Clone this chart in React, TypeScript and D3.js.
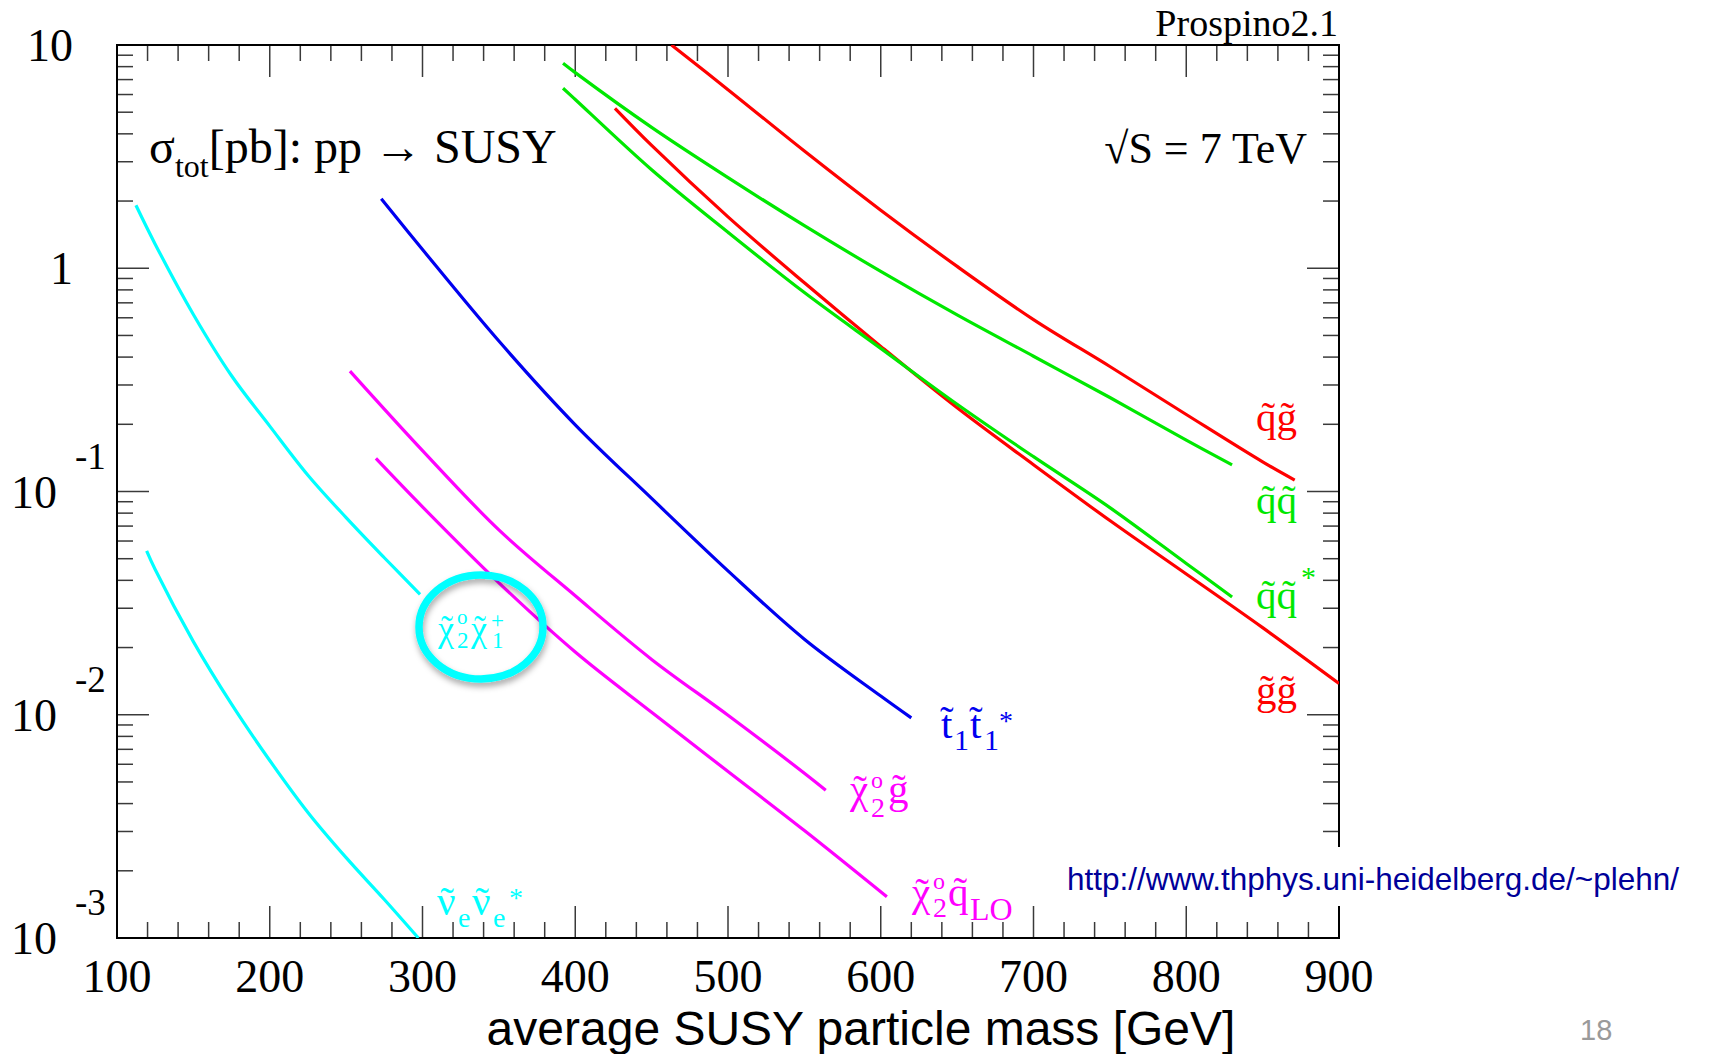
import React from "react";
import * as d3 from "d3";

const W = 1710;
const H = 1054;
const PLOT = { left: 117, right: 1339, top: 45, bottom: 938 };

// axis values
const xMajorTicks = [100, 200, 300, 400, 500, 600, 700, 800, 900];
const xTickLabels = ["100", "200", "300", "400", "500", "600", "700", "800", "900"];
const yDecades = [10, 1, 0.1, 0.01, 0.001];
const yLabelBase = ["10", "1", "10", "10", "10"];
const yLabelExp = ["", "", "-1", "-2", "-3"];

// series data: average mass [GeV], sigma_tot [pb]
const qgMass = [463, 500, 550, 600, 650, 700, 750, 800, 850, 871];
const qgXsec = [10, 6.31, 3.35, 1.82, 1.019, 0.589, 0.363, 0.2213, 0.1358, 0.1125];

const ggMass = [426, 450, 500, 550, 600, 650, 700, 750, 800, 850, 900];
const ggXsec = [5.2, 3.548, 1.698, 0.861, 0.4467, 0.237, 0.1318, 0.0741, 0.0427, 0.02455, 0.0138];

const qqMass = [392, 400, 450, 500, 550, 600, 650, 700, 750, 800, 830];
const qqXsec = [8.28, 7.52, 4.276, 2.547, 1.552, 0.968, 0.618, 0.4036, 0.2636, 0.1698, 0.1315];

const qqbarMass = [392, 400, 450, 500, 550, 600, 650, 700, 750, 800, 830];
const qqbarXsec = [6.4, 5.7, 2.761, 1.449, 0.778, 0.4375, 0.246, 0.1432, 0.0847, 0.0476, 0.0337];

const stopMass = [273, 300, 350, 400, 450, 500, 550, 600, 620];
const stopXsec = [2.046, 1.213, 0.472, 0.199, 0.0931, 0.0441, 0.0218, 0.01213, 0.00968];

const n2gMass = [252.5, 300, 350, 400, 450, 500, 550, 564];
const n2gXsec = [0.346, 0.1524, 0.0673, 0.0341, 0.0177, 0.00995, 0.00547, 0.00459];

const n2qMass = [269.5, 300, 350, 400, 450, 500, 550, 604];
const n2qXsec = [0.1406, 0.0853, 0.039, 0.0191, 0.01026, 0.00557, 0.00303, 0.00153];

const n2c1Mass = [112.4, 125, 150, 175, 200, 225, 250, 275, 298.4];
const n2c1Xsec = [1.914, 1.282, 0.621, 0.33, 0.1963, 0.1183, 0.0764, 0.0505, 0.0346];

const snuMass = [119.4, 125, 150, 175, 200, 225, 250, 275, 297.3];
const snuXsec = [0.0542, 0.0447, 0.02126, 0.01115, 0.00624, 0.00365, 0.00229, 0.001488, 0.001];

const RED = "#ff0000";
const GREEN = "#00e800";
const BLUE = "#0000f0";
const MAGENTA = "#ff00ff";
const CYAN = "#00ffff";

const series = [
  { id: "qg", mass: qgMass, xsec: qgXsec, color: RED },
  { id: "gg", mass: ggMass, xsec: ggXsec, color: RED },
  { id: "qq", mass: qqMass, xsec: qqXsec, color: GREEN },
  { id: "qqbar", mass: qqbarMass, xsec: qqbarXsec, color: GREEN },
  { id: "stop", mass: stopMass, xsec: stopXsec, color: BLUE },
  { id: "n2g", mass: n2gMass, xsec: n2gXsec, color: MAGENTA },
  { id: "n2q", mass: n2qMass, xsec: n2qXsec, color: MAGENTA },
  { id: "n2c1", mass: n2c1Mass, xsec: n2c1Xsec, color: CYAN },
  { id: "snu", mass: snuMass, xsec: snuXsec, color: CYAN },
];

const SERIF = "'Liberation Serif', 'Times New Roman', Times, serif";
const SANS = "'Liberation Sans', Arial, Helvetica, sans-serif";

type Part = { t: string; dx: number; dy?: number; size?: number; tilde?: number };

function Label({ x, y, color, size, parts }: { x: number; y: number; color: string; size: number; parts: Part[] }) {
  return (
    <g fill={color} fontFamily={SERIF}>
      {parts.map((p, i) => (
        <g key={i}>
          <text x={x + p.dx} y={y + (p.dy || 0)} fontSize={p.size || size}>
            {p.t}
          </text>
          {p.tilde !== undefined ? (
            <text
              x={x + p.dx + p.tilde}
              y={y + (p.dy || 0)}
              fontSize={p.size || size}
              textAnchor="middle"
            >
              {"\u02DC"}
            </text>
          ) : null}
        </g>
      ))}
    </g>
  );
}

export default function App() {
  const x = d3.scaleLinear().domain([100, 900]).range([PLOT.left, PLOT.right]);
  const y = d3.scaleLog().domain([0.001, 10]).range([PLOT.bottom, PLOT.top]);

  const line = d3
    .line<[number, number]>()
    .x((d) => x(d[0]))
    .y((d) => y(d[1]))
    .curve(d3.curveCatmullRom.alpha(0.5));

  const xMinor = d3.range(120, 900, 20).filter((v) => v % 100 !== 0);
  const yMinor: number[] = [];
  [0.001, 0.01, 0.1, 1].forEach((d) => {
    for (let k = 2; k <= 9; k++) yMinor.push(d * k);
  });

  const MAJ = 32;
  const MIN = 16;
  const tickColor = "#3a3a3a";

  return (
    <svg
      width={W}
      height={H}
      style={{ position: "absolute", left: 0, top: 0, background: "#fff" }}
      xmlns="http://www.w3.org/2000/svg"
    >
      <defs>
        <clipPath id="plotClip">
          <rect x={PLOT.left} y={PLOT.top} width={PLOT.right - PLOT.left} height={PLOT.bottom - PLOT.top} />
        </clipPath>
        <filter id="shadow" x="-30%" y="-30%" width="160%" height="170%">
          <feDropShadow dx="1" dy="4" stdDeviation="3" floodColor="#000" floodOpacity="0.35" />
        </filter>
      </defs>
      <rect x={0} y={0} width={W} height={H} fill="#fff" />

      {/* ticks */}
      <g stroke={tickColor} strokeWidth={1.5}>
        {xMajorTicks.map((v) => (
          <g key={"xM" + v}>
            <line x1={x(v)} x2={x(v)} y1={PLOT.bottom} y2={PLOT.bottom - MAJ} />
            <line x1={x(v)} x2={x(v)} y1={PLOT.top} y2={PLOT.top + MAJ} />
          </g>
        ))}
        {xMinor.map((v) => (
          <g key={"xm" + v}>
            <line x1={x(v)} x2={x(v)} y1={PLOT.bottom} y2={PLOT.bottom - MIN} />
            <line x1={x(v)} x2={x(v)} y1={PLOT.top} y2={PLOT.top + MIN} />
          </g>
        ))}
        {yDecades.map((v) => (
          <g key={"yM" + v}>
            <line x1={PLOT.left} x2={PLOT.left + MAJ} y1={y(v)} y2={y(v)} />
            <line x1={PLOT.right} x2={PLOT.right - MAJ} y1={y(v)} y2={y(v)} />
          </g>
        ))}
        {yMinor.map((v) => (
          <g key={"ym" + v}>
            <line x1={PLOT.left} x2={PLOT.left + MIN} y1={y(v)} y2={y(v)} />
            <line x1={PLOT.right} x2={PLOT.right - MIN} y1={y(v)} y2={y(v)} />
          </g>
        ))}
      </g>

      {/* frame */}
      <rect
        x={PLOT.left}
        y={PLOT.top}
        width={PLOT.right - PLOT.left}
        height={PLOT.bottom - PLOT.top}
        fill="none"
        stroke="#000"
        strokeWidth={2}
      />

      {/* curves */}
      <g clipPath="url(#plotClip)" fill="none" strokeWidth={3.2} strokeLinecap="butt">
        {series.map((s) => (
          <path
            key={s.id}
            d={line(s.mass.map((m, i) => [m, s.xsec[i]] as [number, number])) || ""}
            stroke={s.color}
          />
        ))}
      </g>

      {/* x tick labels */}
      <g fontFamily={SERIF} fontSize={46} fill="#000" textAnchor="middle">
        {xMajorTicks.map((v, i) => (
          <text key={"xl" + v} x={x(v)} y={992}>
            {xTickLabels[i]}
          </text>
        ))}
      </g>

      {/* y tick labels */}
      <g fontFamily={SERIF} fill="#000">
        {yDecades.map((v, i) =>
          yLabelExp[i] === "" ? (
            <text key={"yl" + v} x={PLOT.left - 44} y={y(v) + 16} fontSize={46} textAnchor="end">
              {yLabelBase[i]}
            </text>
          ) : (
            <g key={"yl" + v}>
              <text x={57} y={y(v) + 16} fontSize={46} textAnchor="end">
                {yLabelBase[i]}
              </text>
              <text x={75} y={y(v) - 23} fontSize={37}>
                {yLabelExp[i]}
              </text>
            </g>
          )
        )}
      </g>

      {/* axis title */}
      <text x={861} y={1045} fontFamily={SANS} fontSize={48} textAnchor="middle" fill="#000">
        average SUSY particle mass [GeV]
      </text>

      {/* header texts */}
      <text x={1338} y={36} fontFamily={SERIF} fontSize={38} textAnchor="end" fill="#000">
        Prospino2.1
      </text>
      <text x={149} y={163} fontFamily={SERIF} fontSize={48} fill="#000">
        σ<tspan fontSize={32} dy={14}>tot</tspan>
        <tspan dy={-14}>[pb]: pp → SUSY</tspan>
      </text>
      <text x={1307} y={163} fontFamily={SERIF} fontSize={44} textAnchor="end" fill="#000">
        √S = 7 TeV
      </text>

      {/* curve labels */}
      <Label x={1256} y={431} color={RED} size={41} parts={[{ t: "q\u0303g\u0303", dx: 0 }]} />
      <Label x={1256} y={514} color={GREEN} size={41} parts={[{ t: "q\u0303q\u0303", dx: 0 }]} />
      <Label
        x={1256}
        y={609}
        color={GREEN}
        size={41}
        parts={[
          { t: "q\u0303q\u0303", dx: 0 },
          { t: "*", dx: 45, dy: -22, size: 30 },
        ]}
      />
      <Label x={1256} y={704} color={RED} size={41} parts={[{ t: "g\u0303g\u0303", dx: 0 }]} />
      <Label
        x={941}
        y={738}
        color={BLUE}
        size={41}
        parts={[
          { t: "t\u0303", dx: 0 },
          { t: "1", dx: 13, dy: 12, size: 30 },
          { t: "t\u0303", dx: 29 },
          { t: "1", dx: 43, dy: 12, size: 30 },
          { t: "*", dx: 58, dy: -8, size: 28 },
        ]}
      />
      <Label
        x={850}
        y={803}
        color={MAGENTA}
        size={41}
        parts={[
          { t: "χ", dx: 0, tilde: 10 },
          { t: "o", dx: 21, dy: -15, size: 24 },
          { t: "2", dx: 21, dy: 14, size: 28 },
          { t: "g\u0303", dx: 38 },
        ]}
      />
      <Label
        x={912}
        y={906}
        color={MAGENTA}
        size={41}
        parts={[
          { t: "χ", dx: 0, tilde: 10 },
          { t: "o", dx: 21, dy: -17, size: 24 },
          { t: "2", dx: 21, dy: 11, size: 28 },
          { t: "q\u0303", dx: 36 },
          { t: "LO", dx: 58, dy: 14, size: 32 },
        ]}
      />
      <Label
        x={437}
        y={915}
        color={CYAN}
        size={41}
        parts={[
          { t: "ν", dx: 0, tilde: 10 },
          { t: "e", dx: 21, dy: 12, size: 28 },
          { t: "ν", dx: 35, tilde: 10 },
          { t: "e", dx: 56, dy: 12, size: 28 },
          { t: "*", dx: 72, dy: -8, size: 28 },
        ]}
      />

      {/* highlighted chargino/neutralino label */}
      <ellipse cx={481} cy={627} rx={62} ry={52} fill="none" stroke={CYAN} strokeWidth={7.5} filter="url(#shadow)" />
      <Label
        x={438}
        y={641}
        color={CYAN}
        size={36}
        parts={[
          { t: "χ", dx: 0, tilde: 9 },
          { t: "o", dx: 19, dy: -17, size: 21 },
          { t: "2", dx: 19, dy: 7, size: 23 },
          { t: "χ", dx: 33, tilde: 9 },
          { t: "+", dx: 53, dy: -13, size: 23 },
          { t: "1", dx: 54, dy: 7, size: 23 },
        ]}
      />

      {/* URL box */}
      <rect x={1058} y={847} width={652} height={59} fill="#fff" />
      <text x={1067} y={890} fontFamily={SANS} fontSize={31.5} fill="#000099">
        http://www.thphys.uni-heidelberg.de/~plehn/
      </text>

      {/* page number */}
      <text x={1580} y={1040} fontFamily={SANS} fontSize={29} fill="#9a9a9a">
        18
      </text>
    </svg>
  );
}
